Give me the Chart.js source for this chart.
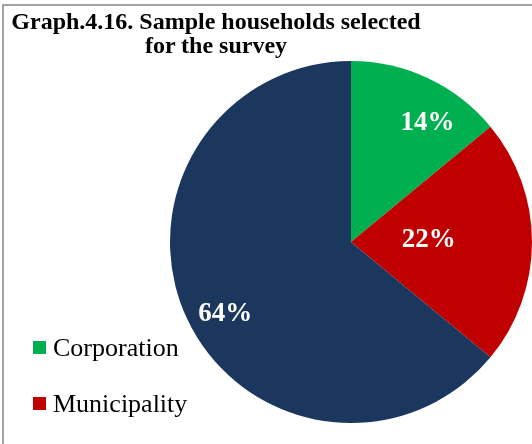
<!DOCTYPE html>
<html>
<head>
<meta charset="utf-8">
<script src="https://cdn.jsdelivr.net/npm/chart.js@4/dist/chart.umd.min.js"></script>
<style>
  html, body { margin: 0; padding: 0; background: #fff; }
  #frame { position: absolute; left: 2px; top: 4px; width: 540px; height: 450px;
           border-top: 2px solid #a3a3a3; border-left: 2px solid #a3a3a3; }
  #title { position: absolute; left: 4px; top: 9px; width: 424px; text-align: center;
           font: bold 24px 'Liberation Serif', 'Times New Roman', serif; line-height: 24px; color: #000; }
  #wrap { position: absolute; left: 0; top: 0; width: 532px; height: 444px; }
</style>
</head>
<body>
<div id="frame"></div>
<div id="wrap"><canvas id="pie"></canvas></div>
<div id="title">Graph.4.16. Sample households selected<br>for the survey</div>
<script>
const categories = ['Corporation', 'Municipality', 'Other']
const shares     = [14, 22, 64]
const colors     = ['#00B050', '#C00000', '#1B375E']
const legendShown = ['Corporation', 'Municipality']

// where each % label sits inside its slice: [fraction along the arc, fraction of radius]
const labelSpots = [[0.65, 0.78], [0.48, 0.43], [0.48, 0.80]]

const sliceLabels = {
  id: 'sliceLabels',
  afterDatasetsDraw(chart) {
    const ctx = chart.ctx
    const arcs = chart.getDatasetMeta(0).data
    ctx.save()
    ctx.fillStyle = '#fff'
    ctx.font = "bold 27px 'Liberation Serif', 'Times New Roman', serif"
    ctx.textAlign = 'center'
    ctx.textBaseline = 'middle'
    arcs.forEach((arc, i) => {
      const p = arc.getProps(['x', 'y', 'startAngle', 'endAngle', 'outerRadius'], true)
      const [fa, fr] = labelSpots[i]
      const a = p.startAngle + (p.endAngle - p.startAngle) * fa
      const r = p.outerRadius * fr
      ctx.fillText(shares[i] + '%', p.x + Math.cos(a) * r, p.y + Math.sin(a) * r)
    })
    ctx.restore()
  }
}

const sideLegend = {
  id: 'sideLegend',
  afterDraw(chart) {
    const ctx = chart.ctx
    ctx.save()
    ctx.font = "26px 'Liberation Serif', 'Times New Roman', serif"
    ctx.textBaseline = 'alphabetic'
    legendShown.forEach((name, k) => {
      const i = categories.indexOf(name)
      const base = 356 + k * 56
      ctx.fillStyle = colors[i]
      ctx.fillRect(33, base - 15, 13, 13)
      ctx.fillStyle = '#000'
      ctx.fillText(name, 53, base)
    })
    ctx.restore()
  }
}

new Chart(document.getElementById('pie'), {
  type: 'pie',
  data: {
    labels: categories,
    datasets: [{ data: shares, backgroundColor: colors, borderWidth: 0 }]
  },
  options: {
    responsive: true, maintainAspectRatio: false, animation: false,
    layout: { padding: { left: 170, right: 0, top: 61, bottom: 21 } },
    plugins: { legend: { display: false }, tooltip: { enabled: false } }
  },
  plugins: [sliceLabels, sideLegend]
})
</script>
</body>
</html>
